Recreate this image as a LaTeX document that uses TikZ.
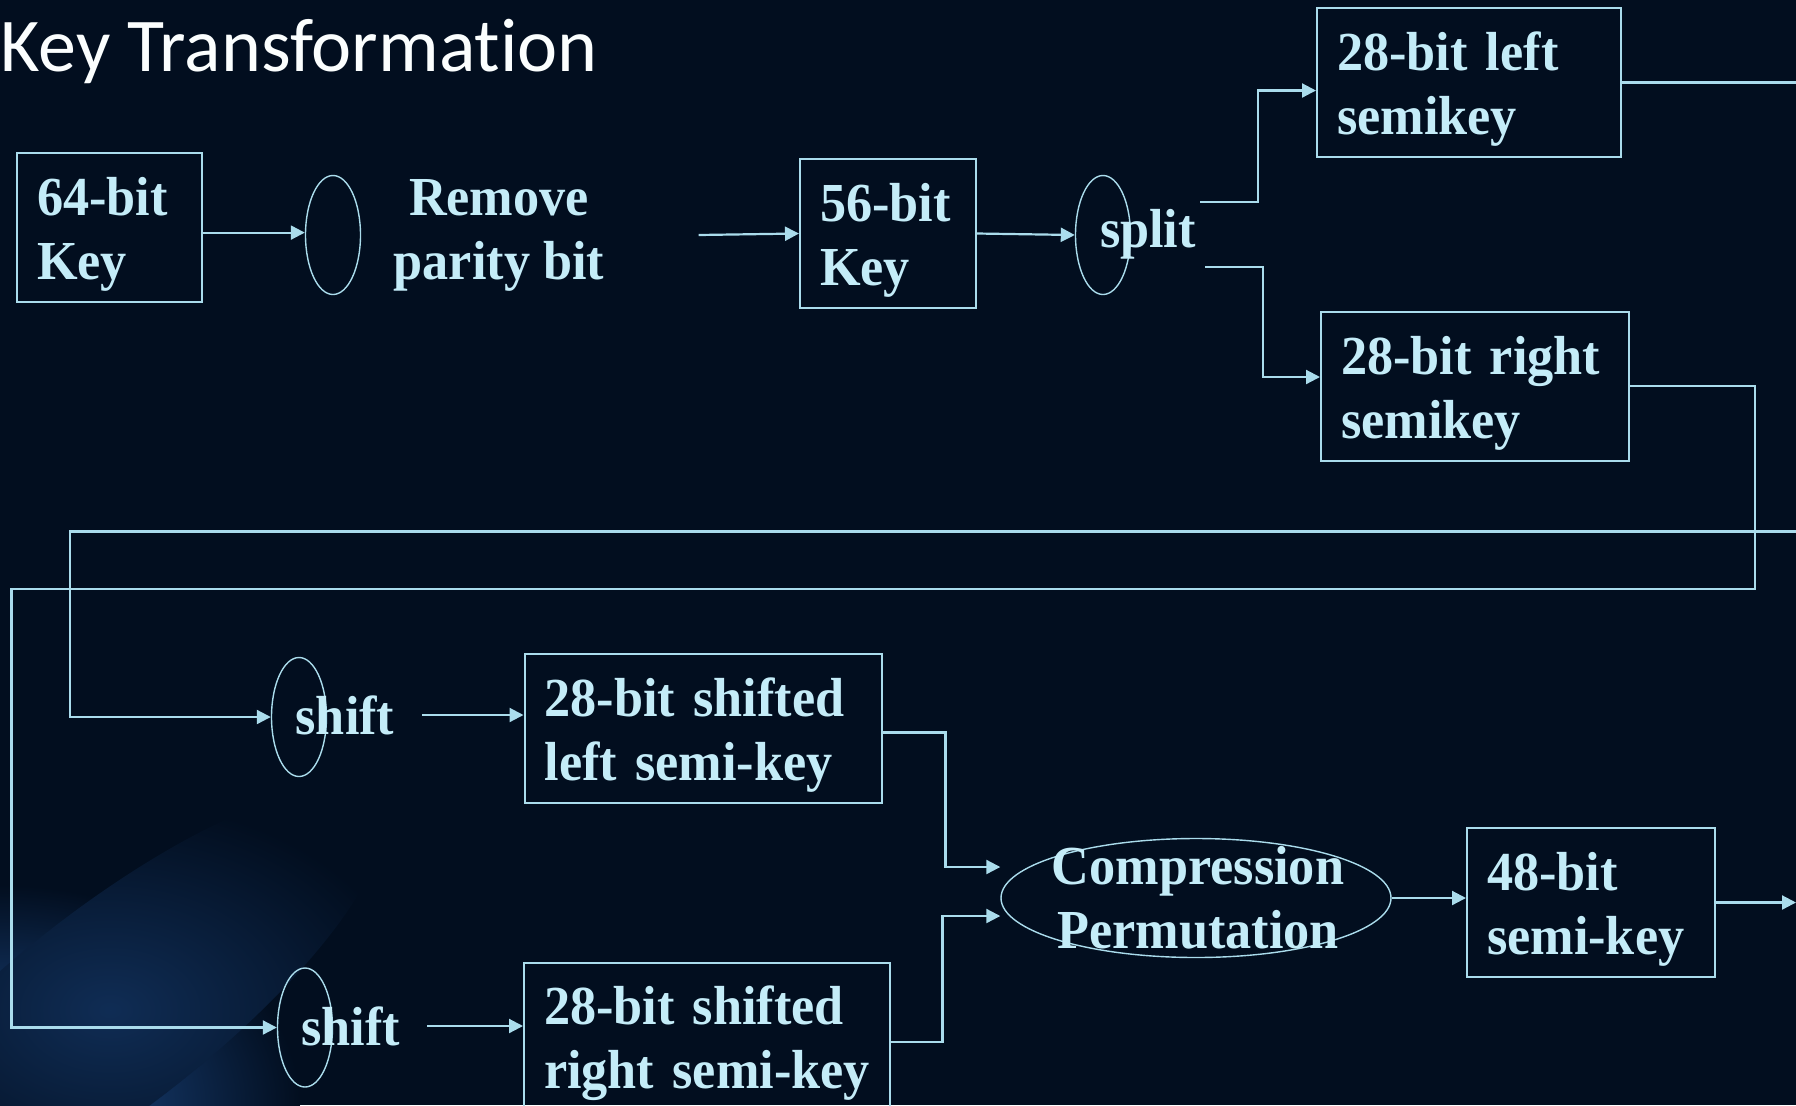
\documentclass[tikz,border=0pt]{standalone}
\usepackage{fontspec}
\setmainfont[FakeStretch=0.95]{Liberation Serif}
\newfontfamily\titlefont[Ligatures=NoCommon]{Carlito}
\usetikzlibrary{shapes.geometric,arrows.meta}
\definecolor{bgnavy}{RGB}{2,14,31}
\definecolor{glowblue}{RGB}{32,82,150}
\definecolor{wire}{RGB}{170,220,236}
\definecolor{ink}{RGB}{196,236,248}
\tikzset{keybox/.style={draw=wire,line width=1pt,text=ink,align=left,inner xsep=10pt,inner ysep=0pt,minimum height=74.5pt,font=\bfseries\fontsize{27.5}{32}\selectfont,execute at begin node={\rule{0pt}{26pt}}}, ring/.style={draw=wire,line width=0.7pt,ellipse,inner sep=0pt,minimum width=27.5pt,minimum height=59.5pt}, lbl/.style={text=ink,inner sep=0pt,align=center,font=\bfseries\fontsize{27.5}{32}\selectfont}, flow/.style={draw=wire,line width=1.1pt,-{Triangle[length=7pt,width=7pt]}}, wireline/.style={draw=wire,line width=1.1pt}}

\begin{document}
\begin{tikzpicture}[x=0.5pt,y=-0.5pt]
\useasboundingbox (0,0) rectangle (1796,1105);
\clip (0,0) rectangle (1796,1105);
\fill[bgnavy] (0,0) rectangle (1796,1105);
\shade[inner color=glowblue,outer color=bgnavy] (0,1105) ellipse (150pt and 110pt);
\shade[inner color=glowblue!45!bgnavy,outer color=bgnavy,rotate around={38:(110,1010)}] (110,1010) ellipse (170pt and 50pt);
\node[anchor=base east,inner sep=0pt,text=white!94!ink,font=\titlefont\fontsize{38}{42}\selectfont] (ttl) at (598,71) {Key Transformation};
\node[keybox,text width=72.5pt] (k64) at (109.5,227) {64-bit\\Key};
\node[ring] (e1) at (333,235) {};
\node[lbl] (rp) at (499,235) {Remove\\parity bit};
\node[keybox,text width=68pt] (k56) at (888,233.5) {56-bit\\Key};
\node[ring] (sp) at (1103,235) {};
\node[lbl] (spt) at (1148,234) {split};
\node[keybox,text width=132pt] (lsk) at (1469,82.5) {28-bit left\\semikey};
\node[keybox,text width=134pt] (rsk) at (1475,386) {28-bit right\\semikey};
\node[ring] (sh1) at (299,717) {};
\node[lbl] (st1) at (345,715) {shift};
\node[keybox,text width=158.5pt] (sl) at (703,728.5) {28-bit shifted\\left semi-key};
\node[ring] (sh2) at (305,1027.5) {};
\node[lbl] (st2) at (350.5,1026) {shift};
\node[keybox,text width=163pt] (sr) at (707,1037) {28-bit shifted\\right semi-key};
\node[ring,minimum width=195pt] (cp) at (1196,898) {};
\node[lbl] (cpt) at (1198,898) {Compression\\Permutation};
\node[keybox,text width=104pt] (k48) at (1591,902.5) {48-bit\\semi-key};
\coordinate (ex) at (1796,0);
\coordinate (tr) at (1796,531.5);
\coordinate (tl) at (70,531.5);
\coordinate (br) at (1755,589);
\coordinate (bl) at (11.5,589);
\draw[flow] ([yshift=-2.8pt]k64.east) -- ([yshift=-2.8pt]k64.east -| e1.west);
\draw[flow] ([xshift=47pt]rp.east) -- (k56.west);
\draw[flow] (k56.east) -- (sp.west);
\draw[flow] ([shift={(2pt,16pt)}]spt.east) -- ++(29pt,0) |- ([yshift=-4pt]lsk.west);
\draw[flow] ([shift={(4.5pt,-16.5pt)}]spt.east) -- ++(29pt,0) |- ([yshift=4.5pt]rsk.west);
\draw[wireline] (lsk.east) -- (lsk.east -| ex);
\draw[flow] (rsk.east) -| (br) -- (bl) |- (sh2.west);
\draw[flow] (tr) -- (tl) |- (sh1.west);
\draw[flow] ([xshift=13.5pt]st1.east) -- (st1.east -| sl.west);
\draw[flow] ([xshift=13.5pt]st2.east) -- (st2.east -| sr.west);
\draw[flow] ([yshift=-2pt]sl.east) -- ++(31.5pt,0) |- ([yshift=15.5pt]cp.west);
\draw[flow] ([yshift=-2.5pt]sr.east) -- ++(25.75pt,0) |- ([yshift=-9pt]cp.west);
\draw[flow] (cp.east) -- (cp.east -| k48.west);
\draw[flow] (k48.east) -- (k48.east -| ex);
\end{tikzpicture}
\end{document}
